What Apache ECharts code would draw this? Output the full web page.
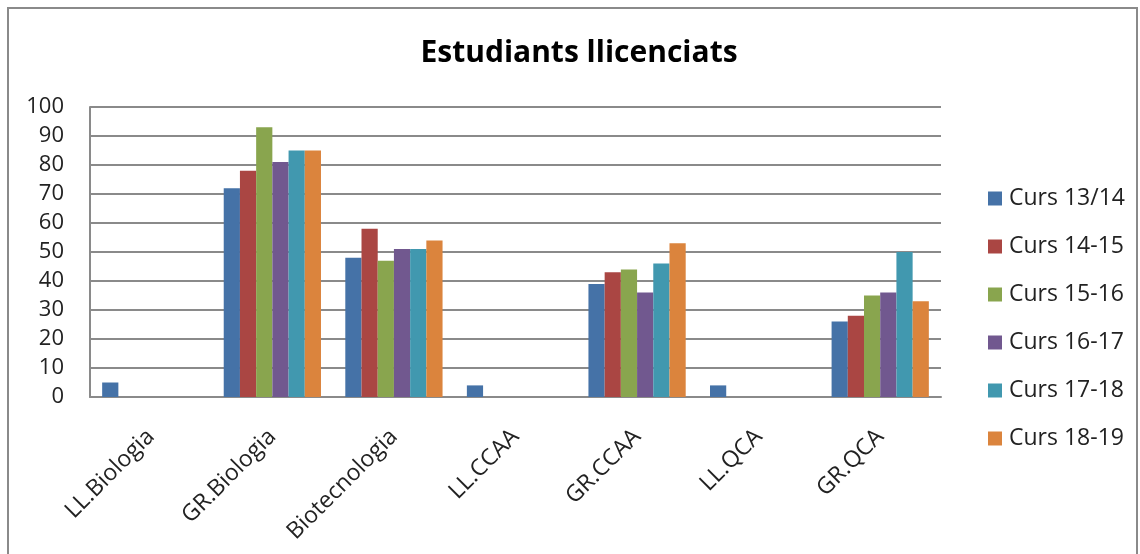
<!DOCTYPE html>
<html>
<head>
<meta charset="utf-8">
<script src="https://cdn.jsdelivr.net/npm/echarts@6/dist/echarts.min.js"></script>
<style>
  html, body { margin: 0; padding: 0; background: #fff; }
  #chart { width: 1140px; height: 554px; }
</style>
</head>
<body>
<div id="chart"></div>
<script>
// categories and series
const categories = ['LL.Biologia', 'GR.Biologia', 'Biotecnologia', 'LL.CCAA', 'GR.CCAA', 'LL.QCA', 'GR.QCA'];
const seriesNames = ['Curs 13/14', 'Curs 14-15', 'Curs 15-16', 'Curs 16-17', 'Curs 17-18', 'Curs 18-19'];
const curs1314 = [5, 72, 48, 4, 39, 4, 26];
const curs1415 = [0, 78, 58, 0, 43, 0, 28];
const curs1516 = [0, 93, 47, 0, 44, 0, 35];
const curs1617 = [0, 81, 51, 0, 36, 0, 36];
const curs1718 = [0, 85, 51, 0, 46, 0, 50];
const curs1819 = [0, 85, 54, 0, 53, 0, 33];
const yTicks = [0, 10, 20, 30, 40, 50, 60, 70, 80, 90, 100];

const colors = ['#4572A7', '#AA4643', '#89A54E', '#71588F', '#4198AF', '#DB843D'];
const values = [curs1314, curs1415, curs1516, curs1617, curs1718, curs1819];
const font = '"Open Sans", "Noto Sans", sans-serif';

const chart = echarts.init(document.getElementById('chart'));

// one bar series per course
const series = seriesNames.map((name, i) => ({
  name: name,
  type: 'bar',
  data: values[i],
  barGap: '0%',
  barCategoryGap: '20%',
  itemStyle: { color: colors[i] }
}));

chart.setOption({
  animation: false,
  color: colors,
  title: {
    text: 'Estudiants llicenciats',
    left: 574,
    top: 33,
    textAlign: 'center',
    textStyle: { fontFamily: font, fontSize: 30, fontWeight: 'bold', color: '#000' }
  },
  legend: {
    orient: 'vertical',
    left: 983,
    top: 182,
    itemWidth: 14,
    itemHeight: 14,
    itemGap: 25,
    icon: 'rect',
    data: seriesNames,
    textStyle: { fontFamily: font, fontSize: 23, lineHeight: 22, color: '#222', padding: [0, 0, 0, 2] }
  },
  grid: { left: 90, top: 107, width: 851, height: 290 },
  xAxis: {
    type: 'category',
    data: categories,
    axisLine: { lineStyle: { color: '#8a8a8a', width: 2 } },
    axisTick: { show: false },
    axisLabel: {
      interval: 0,
      rotate: 45,
      margin: 36,
      fontFamily: font,
      fontSize: 23,
      color: '#222'
    }
  },
  yAxis: {
    type: 'value',
    min: yTicks[0],
    max: yTicks[yTicks.length - 1],
    interval: 10,
    axisLine: { show: true, lineStyle: { color: '#8a8a8a', width: 2 } },
    axisTick: { show: false },
    splitLine: { lineStyle: { color: '#8a8a8a', width: 2 } },
    axisLabel: { margin: 26, fontFamily: font, fontSize: 22, color: '#222' }
  },
  graphic: [{
    type: 'rect',
    shape: { x: 8, y: 8, width: 1129, height: 570 },
    style: { fill: 'none', stroke: '#8a8a8a', lineWidth: 2 },
    silent: true
  }],
  series: series
});
</script>
</body>
</html>
